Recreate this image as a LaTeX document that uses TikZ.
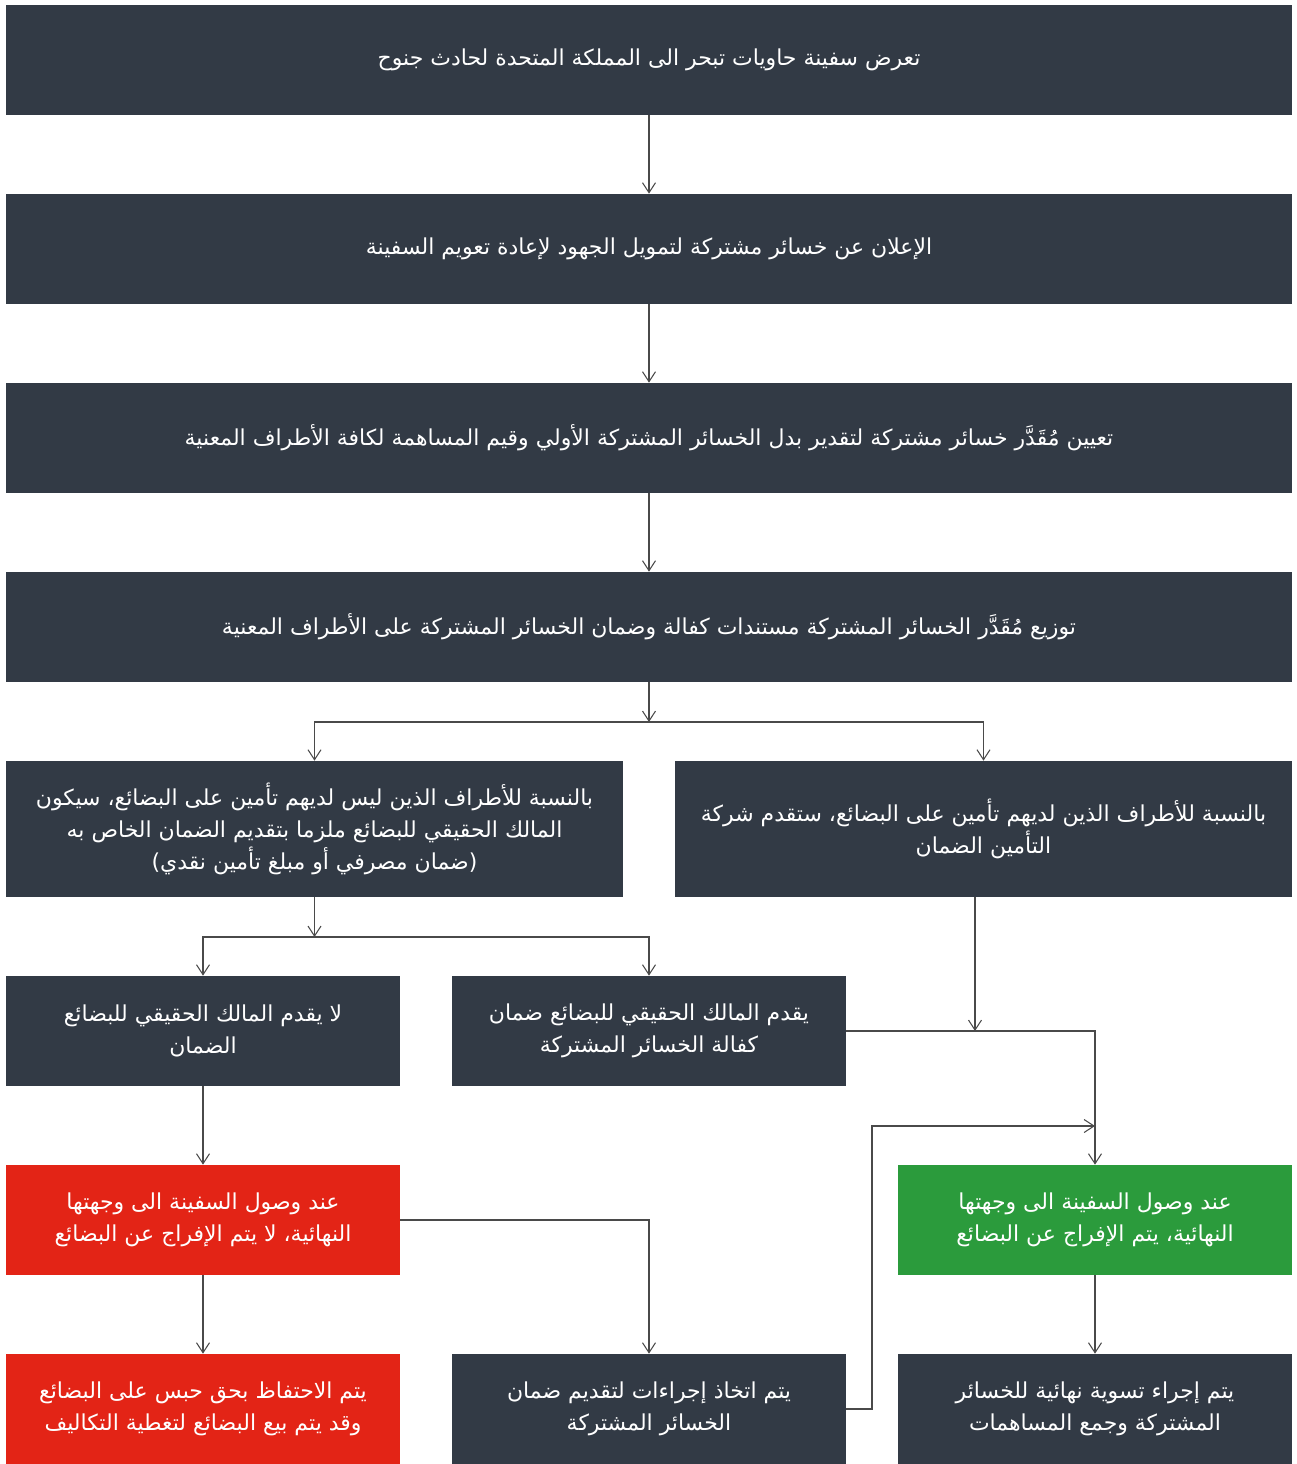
\documentclass[tikz,border=0pt]{standalone}
\usepackage{fontspec}
\newfontfamily\arabicfont[Script=Arabic]{DejaVu Sans}
\TeXXeTstate=1
\usetikzlibrary{arrows.meta}
\definecolor{boxdark}{HTML}{323A45}
\definecolor{boxred}{HTML}{E32416}
\definecolor{boxgreen}{HTML}{2B9B3C}
\definecolor{linkgray}{HTML}{4A4A4A}
\newcommand{\rtl}[1]{\beginR #1\endR}
\tikzset{
  stepnode/.style={fill=boxdark, text=white, align=center, inner sep=0pt,
    font=\arabicfont\fontsize{12.5}{18.2}\selectfont},
  widebox/.style={stepnode, minimum width=25.72cm, minimum height=2.2cm},
  halfbox/.style={stepnode, minimum width=12.34cm, minimum height=2.72cm},
  smallbox/.style={stepnode, minimum width=7.88cm, minimum height=2.2cm},
  link/.style={draw=linkgray, line width=0.6pt, -{Straight Barb[length=2mm,width=2.6mm]}},
}

\begin{document}
\begin{tikzpicture}[x=0.02cm, y=-0.02cm]
\useasboundingbox (0,0) rectangle (1297,1464);
% main chain
\node[widebox] (b1) at (649,60) {\rtl{تعرض سفينة حاويات تبحر الى المملكة المتحدة لحادث جنوح}};
\node[widebox] (b2) at (649,249) {\rtl{الإعلان عن خسائر مشتركة لتمويل الجهود لإعادة تعويم السفينة}};
\node[widebox] (b3) at (649,438) {\rtl{تعيين مُقَدَّر خسائر مشتركة لتقدير بدل الخسائر المشتركة الأولي وقيم المساهمة لكافة الأطراف المعنية}};
\node[widebox] (b4) at (649,627) {\rtl{توزيع مُقَدَّر الخسائر المشتركة مستندات كفالة وضمان الخسائر المشتركة على الأطراف المعنية}};
% two branches
\node[halfbox] (l1) at (314.5,829) {\rtl{بالنسبة للأطراف الذين ليس لديهم تأمين على البضائع، سيكون}\\
  \rtl{المالك الحقيقي للبضائع ملزما بتقديم الضمان الخاص به}\\
  \rtl{(ضمان مصرفي أو مبلغ تأمين نقدي)}};
\node[halfbox] (r1) at (983.5,829) {\rtl{بالنسبة للأطراف الذين لديهم تأمين على البضائع، ستقدم شركة}\\
  \rtl{التأمين الضمان}};
\node[smallbox] (m1) at (203,1031) {\rtl{لا يقدم المالك الحقيقي للبضائع}\\ \rtl{الضمان}};
\node[smallbox] (m2) at (649,1031) {\rtl{يقدم المالك الحقيقي للبضائع ضمان}\\ \rtl{كفالة الخسائر المشتركة}};
\node[smallbox, fill=boxred] (red1) at (203,1220) {\rtl{عند وصول السفينة الى وجهتها}\\ \rtl{النهائية، لا يتم الإفراج عن البضائع}};
\node[smallbox, fill=boxgreen] (grn) at (1095,1220) {\rtl{عند وصول السفينة الى وجهتها}\\ \rtl{النهائية، يتم الإفراج عن البضائع}};
\node[smallbox, fill=boxred] (red2) at (203,1409) {\rtl{يتم الاحتفاظ بحق حبس على البضائع}\\ \rtl{وقد يتم بيع البضائع لتغطية التكاليف}};
\node[smallbox] (act) at (649,1409) {\rtl{يتم اتخاذ إجراءات لتقديم ضمان}\\ \rtl{الخسائر المشتركة}};
\node[smallbox] (fin) at (1095,1409) {\rtl{يتم إجراء تسوية نهائية للخسائر}\\ \rtl{المشتركة وجمع المساهمات}};
% junctions
\coordinate (s1) at (649,722);
\coordinate (s2) at (314.5,937);
\coordinate (j1) at (975,1031);
\coordinate (j2) at (872,1126);
% connectors
\draw[link] (b1) -- (b2);
\draw[link] (b2) -- (b3);
\draw[link] (b3) -- (b4);
\draw[link] (b4) -- (s1);
\draw[link] (s1) -| (l1.north);
\draw[link] (s1) -| (r1.north);
\draw[link] (l1) -- (s2);
\draw[link] (s2) -| (m1.north);
\draw[link] (s2) -| (m2.north);
\draw[link] (r1.south -| j1) -- (j1);
\draw[link] (m2.east) -| (grn.north);
\draw[link] (act.east) -| (j2) -- (j2 -| grn.north);
\draw[link] (m1) -- (red1);
\draw[link] (red1.east) -| (act.north);
\draw[link] (red1) -- (red2);
\draw[link] (grn) -- (fin);
\end{tikzpicture}
\end{document}
